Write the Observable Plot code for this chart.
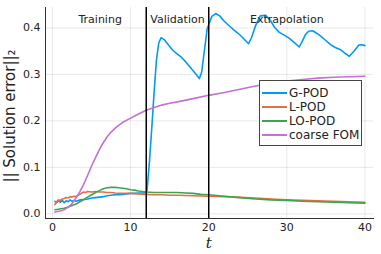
<!DOCTYPE html>
<html><head><meta charset="utf-8">
<script src="https://cdn.jsdelivr.net/npm/d3@7"></script>
<script src="https://cdn.jsdelivr.net/npm/@observablehq/plot@0.6"></script>
<style>
body{margin:0;background:#fff}
#wrap{position:relative;width:381px;height:254px;font-family:"DejaVu Sans",sans-serif}
#legend{position:absolute;left:259px;top:80px;width:103px;height:66px;border:1px solid #444;background:#fff;box-sizing:border-box;padding-top:5px}
.item{display:flex;align-items:center;height:14px;font-size:12px;color:#222;white-space:nowrap}
.sw{width:25px;height:2px;margin:0 2px 0 2px}
</style></head><body><div id="wrap"></div>
<script>
const seriesNames = ["G-POD", "L-POD", "LO-POD", "coarse FOM"];
const colors = ["#009AFA", "#E36F47", "#3EA44E", "#C371D2"];
const regionLabels = ["Training", "Validation", "Extrapolation"];
const regionX = [6.1, 16, 30];
const splitT = [12, 20];
const xTicks = [0, 10, 20, 30, 40];
const yTicks = [0.0, 0.1, 0.2, 0.3, 0.4];

const tG = [0.3,0.5,0.75,1,1.25,1.5,1.75,2,2.25,2.5,2.75,3,3.5,4,4.5,5,5.5,6,6.5,7,7.5,8,8.5,9,9.5,10,10.5,11,11.5,12,
  12.1,12.4,12.75,13,13.3,13.6,13.9,14.3,14.9,15.4,15.9,16.5,17,17.5,17.9,18.4,18.8,19.1,19.4,19.8,20.4,20.9,21.4,21.9,22.4,22.8,23.2,23.8,24.3,24.7,25.1,25.5,26,26.6,27.3,27.9,28.4,29,29.6,30.3,31,31.6,32,32.4,32.8,33.3,33.8,34.3,35,35.6,36.2,36.9,37.5,38,38.6,39.2,39.6,40];
const vG = [0.027,0.024,0.028,0.025,0.029,0.024,0.028,0.026,0.030,0.027,0.029,0.027,0.030,0.031,0.032,0.034,0.035,0.036,0.037,0.039,0.040,0.041,0.041,0.042,0.043,0.044,0.044,0.045,0.045,0.046,
  0.05,0.11,0.195,0.26,0.33,0.368,0.379,0.375,0.362,0.352,0.345,0.337,0.328,0.318,0.310,0.300,0.291,0.305,0.345,0.398,0.425,0.431,0.426,0.416,0.408,0.402,0.396,0.388,0.380,0.373,0.366,0.380,0.405,0.426,0.427,0.416,0.402,0.391,0.385,0.378,0.368,0.359,0.372,0.386,0.393,0.394,0.389,0.383,0.373,0.364,0.358,0.353,0.345,0.339,0.350,0.363,0.364,0.362];

const tL = [0.3,0.5,0.75,1,1.25,1.5,1.75,2,2.25,2.5,2.75,3,3.25,3.5,3.75,4,4.25,4.5,5,5.5,6,6.5,7,7.5,8,9,10,11,12,13,14,15,16,18,20,22,24,26,28,30,32,34,36,38,40];
const vL = [0.020,0.026,0.030,0.029,0.032,0.033,0.035,0.034,0.037,0.036,0.038,0.037,0.040,0.042,0.045,0.047,0.046,0.048,0.047,0.048,0.047,0.047,0.046,0.046,0.045,0.044,0.044,0.043,0.042,0.041,0.041,0.040,0.040,0.039,0.038,0.037,0.0355,0.034,0.032,0.0305,0.029,0.028,0.027,0.026,0.025];

const tLO = [0.3,0.75,1,1.5,2,2.5,3,3.5,4,4.5,5,5.5,6,6.5,7,7.5,8,8.5,9,9.5,10,10.5,11,11.5,12,13,14,15,16,17,18,19,20,22,24,26,28,30,32,34,36,38,40];
const vLO = [0.009,0.010,0.011,0.012,0.015,0.018,0.021,0.026,0.031,0.036,0.041,0.046,0.050,0.054,0.056,0.057,0.057,0.056,0.055,0.054,0.052,0.051,0.049,0.048,0.047,0.046,0.046,0.046,0.046,0.045,0.044,0.042,0.041,0.038,0.035,0.032,0.030,0.029,0.027,0.026,0.025,0.024,0.023];

const tF = [0.3,1,1.5,2,2.5,3,3.5,4,4.5,5,5.5,6,6.5,7,7.5,8,8.5,9,10,11,12,13,14,15,16,18,20,22,24,26,28,30,32,34,36,38,40];
const vF = [0.004,0.006,0.009,0.014,0.022,0.034,0.048,0.064,0.083,0.103,0.121,0.138,0.153,0.166,0.176,0.184,0.191,0.197,0.206,0.215,0.223,0.229,0.234,0.238,0.241,0.248,0.255,0.261,0.268,0.275,0.281,0.286,0.289,0.292,0.294,0.295,0.296];

const allT = [tG, tL, tLO, tF], allV = [vG, vL, vLO, vF];
const rows = [];
seriesNames.forEach((s, i) => allT[i].forEach((t, j) => rows.push({t, v: allV[i][j], s})));

const font = '"DejaVu Sans", sans-serif';
const chart = Plot.plot({
  width: 381, height: 254,
  marginLeft: 45, marginRight: 8, marginTop: 7, marginBottom: 36,
  style: {fontFamily: font, fontSize: "11px", color: "#222", background: "#fff"},
  x: {domain: [-0.9, 41.1]},
  y: {domain: [-0.01, 0.444]},
  color: {domain: seriesNames, range: colors},
  marks: [
    Plot.gridX(xTicks, {stroke: "#000", strokeOpacity: 0.09}),
    Plot.gridY(yTicks, {stroke: "#000", strokeOpacity: 0.09}),
    Plot.axisX(xTicks, {tickSize: 0, tickPadding: 5, label: null, fontSize: 11}),
    Plot.axisY(yTicks, {tickSize: 0, tickPadding: 5, label: null, tickFormat: d3.format(".1f"), fontSize: 11}),
    Plot.frame({anchor: "left", stroke: "#333"}),
    Plot.frame({anchor: "bottom", stroke: "#333"}),
    Plot.line(rows, {x: "t", y: "v", z: "s", stroke: "s", strokeWidth: 1.6}),
    Plot.ruleX(splitT, {stroke: "#000", strokeWidth: 1.5}),
    Plot.text(regionLabels, {x: (d, i) => regionX[i], text: d => d, frameAnchor: "top", dy: 8, fontSize: 11, fill: "#222"}),
    Plot.text(["|| Solution error||₂"], {frameAnchor: "left", textAnchor: "middle", dx: -35, dy: 3, rotate: -90, fontSize: 15, fill: "#222"}),
    Plot.text(["t"], {x: 20, frameAnchor: "bottom", dy: 29, fontSize: 15, fontStyle: "italic", fontFamily: "DejaVu Serif", fill: "#222"})
  ]
});
const wrap = document.getElementById("wrap");
wrap.appendChild(chart);
const leg = document.createElement("div");
leg.id = "legend";
seriesNames.forEach((s, i) => {
  const it = document.createElement("div");
  it.className = "item";
  const sw = document.createElement("span");
  sw.className = "sw";
  sw.style.background = colors[i];
  it.appendChild(sw);
  it.appendChild(document.createTextNode(s));
  leg.appendChild(it);
});
wrap.appendChild(leg);
</script></body></html>
